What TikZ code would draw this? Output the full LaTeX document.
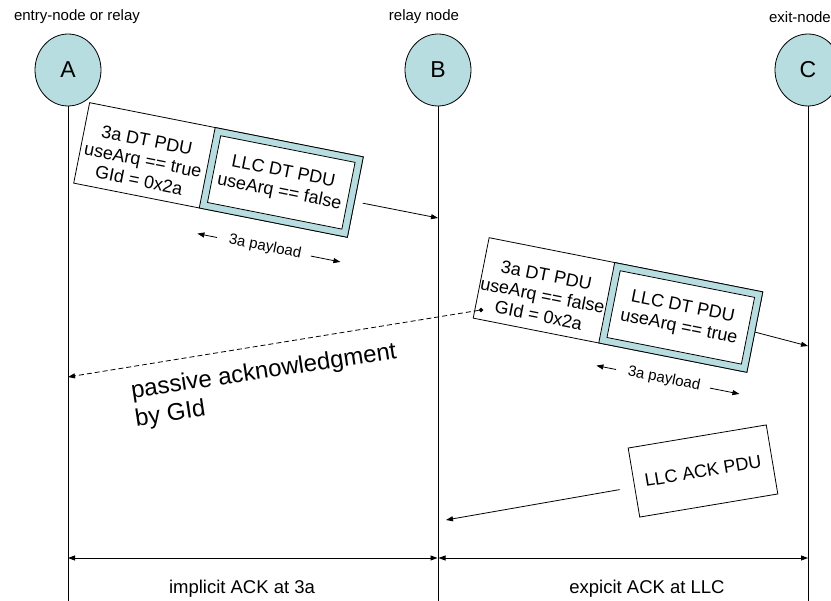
\documentclass[tikz,border=0pt]{standalone}
\usepackage{fontspec}
\setmainfont{Liberation Sans}
\usetikzlibrary{arrows.meta,calc,shapes.geometric}
\definecolor{pale}{RGB}{183,221,224}
\begin{document}
\begin{tikzpicture}[x=1pt,y=-1pt,
  every node/.style={inner sep=0pt},
  site/.style={ellipse,draw,fill=pale,line width=0.8pt,minimum width=66pt,minimum height=72pt,
    font=\fontsize{23}{26}\selectfont},
  role/.style={font=\fontsize{15}{18}\selectfont},
  life/.style={line width=0.8pt},
  pdubox/.style={draw,fill=white,line width=0.8pt,minimum width=279pt,minimum height=82pt},
  llcframe/.style={draw,fill=pale,line width=0.8pt,minimum width=151pt,minimum height=82pt},
  llcinner/.style={draw,fill=white,line width=0.8pt,minimum width=137pt,minimum height=68pt,
    align=center,font=\fontsize{18}{20.5}\selectfont},
  hdr/.style={align=center,font=\fontsize{18}{20.5}\selectfont},
  payload/.style={font=\fontsize{15}{18}\selectfont},
  msg/.style={line width=0.8pt,-{Triangle[length=7pt,width=5pt]}},
  span/.style={line width=0.8pt,{Triangle[length=7pt,width=5pt]}-{Triangle[length=7pt,width=5pt]}},
  caption/.style={font=\fontsize{18.5}{22}\selectfont}
]
\useasboundingbox (0,0) rectangle (831,601);

% lifeline heads and role labels
\node[site] (A) at (68,70) {A};
\node[site] (B) at (438,70) {B};
\node[site] (C) at (808,70) {C};
\node[role] (roleA) at (77,17) {entry-node or relay};
\node[role] (roleB) at (424,17) {relay node};
\node[role,anchor=east] (roleC) at (831,17) {exit-node};

% lifelines
\coordinate (Aend) at (68,601);
\coordinate (Bend) at (438,601);
\coordinate (Cend) at (808,601);
\draw[life] (A) -- (Aend);
\draw[life] (B) -- (Bend);
\draw[life] (C) -- (Cend);

% first data PDU: A -> B
\node[pdubox,rotate=-11.2] (p1) at (218.5,170) {};
\node[llcframe,rotate=-11.2,anchor=east] (p1llc) at (p1.east) {};
\node[llcinner,rotate=-11.2] (p1in) at (p1llc.center) {LLC DT PDU\\useArq == false};
\node[hdr,rotate=-11.2] (p1hdr) at ($(p1.west)!0.5!(p1llc.west)+(-1,5)$)
  {3a DT PDU\\useArq == true\\GId = 0x2a};
\node[payload,rotate=-11.2] (pl1) at (265,247) {3a payload};
\draw[msg] ($(pl1.west)!-12pt!(pl1.east)$) -- ($(pl1.west)!-32pt!(pl1.east)$);
\draw[msg] ($(pl1.east)!-10pt!(pl1.west)$) -- ($(pl1.east)!-40pt!(pl1.west)$);
\coordinate (B1) at (438,218);
\draw[msg] ([shift={(7,6)}]p1.east) -- (B1);

% second data PDU: B -> C
\node[pdubox,rotate=-11.2] (p2) at (618,305) {};
\node[llcframe,rotate=-11.2,anchor=east] (p2llc) at (p2.east) {};
\node[llcinner,rotate=-11.2] (p2in) at (p2llc.center) {LLC DT PDU\\useArq == true};
\node[hdr,rotate=-11.2] (p2hdr) at ($(p2.west)!0.5!(p2llc.west)+(-1,5)$)
  {3a DT PDU\\useArq == false\\GId = 0x2a};
\node[payload,rotate=-11.2] (pl2) at (664,379) {3a payload};
\draw[msg] ($(pl2.west)!-12pt!(pl2.east)$) -- ($(pl2.west)!-32pt!(pl2.east)$);
\draw[msg] ($(pl2.east)!-10pt!(pl2.west)$) -- ($(pl2.east)!-40pt!(pl2.west)$);
\coordinate (C1) at (808,346);
\draw[msg] (p2.east) -- (C1);

% passive acknowledgment back to A
\node[diamond,fill,minimum size=5pt] (gid) at (481,310) {};
\coordinate (A2) at (68,377);
\draw[msg,dash pattern=on 5pt off 3pt] (gid) -- (A2);
\node[align=left,rotate=8.6,font=\fontsize{24}{28}\selectfont] (passive) at (266,386)
  {passive acknowledgment\\by GId};

% explicit LLC acknowledgment C -> B
\node[draw,fill=white,line width=0.8pt,rotate=9.5,minimum width=140pt,minimum height=70pt,
  font=\fontsize{18}{20}\selectfont] (ack) at (703,471) {LLC ACK PDU};
\coordinate (B3) at (446,520);
\draw[msg] ([shift={(-14,7)}]ack.west) -- (B3);

% acknowledgment spans
\coordinate (Ad) at (68,558);
\coordinate (Bd) at (438,558);
\coordinate (Cd) at (808,558);
\draw[span,shorten >=0.5pt] (Ad) -- (Bd);
\draw[span,shorten <=0.5pt] (Bd) -- (Cd);
\node[caption] (impl) at (242,589) {implicit ACK at 3a};
\node[caption] (expl) at (647,589) {expicit ACK at LLC};
\end{tikzpicture}
\end{document}
